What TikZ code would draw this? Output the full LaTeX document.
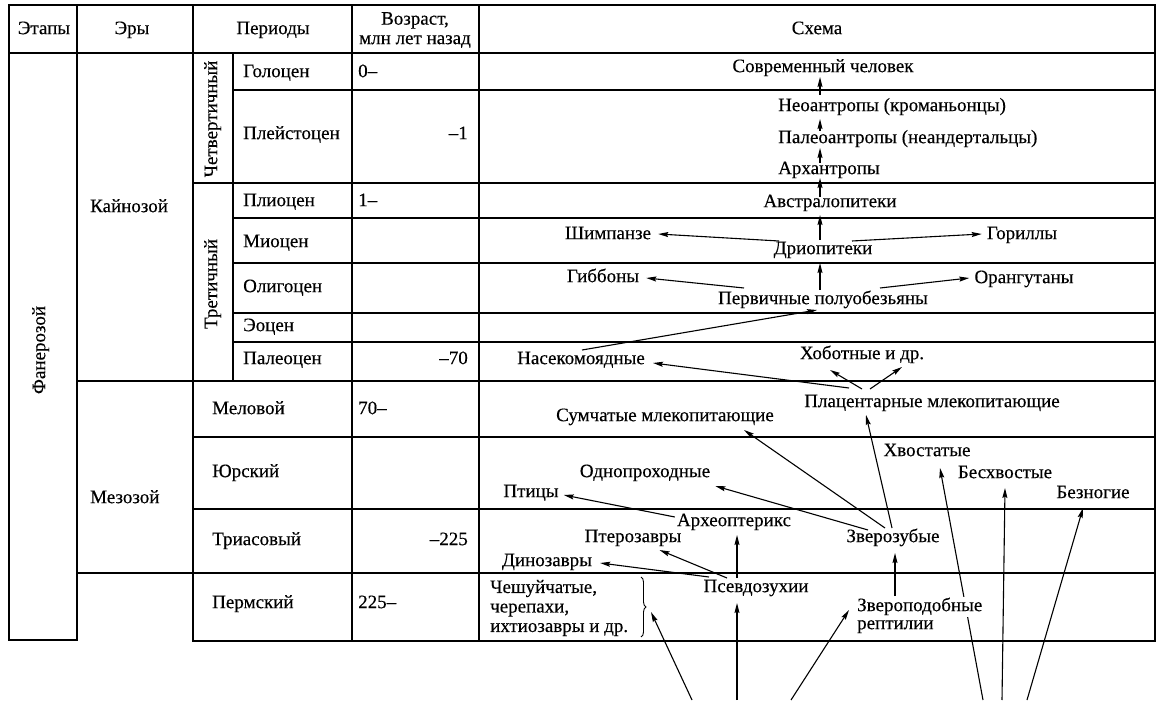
\documentclass[tikz,border=0pt]{standalone}
\usepackage{fontspec}
\setmainfont[FakeBold=0.3]{Liberation Serif}
\usetikzlibrary{arrows.meta,calc,decorations.pathreplacing}
\begin{document}
\begin{tikzpicture}[x=1pt,y=-1pt,
  tl/.style={line width=1.4pt, line cap=rect},
  lbl/.style={inner sep=0pt, font=\fontsize{19}{20}\selectfont, text height=12.5pt, text depth=4.2pt},
  mlbl/.style={inner sep=0pt, font=\fontsize{19}{19.5}\selectfont},
  arr/.style={line width=1.1pt, -{Stealth[length=10pt,width=5pt,inset=1.5pt]}},
]
\fill[white] (0,0) rectangle (1157,703);
\useasboundingbox (0,0) rectangle (1157,703);

% ---------- table ----------
\draw[tl] (9,5) -- (1155,5);
\draw[tl] (9,53) -- (1155,53);
\draw[tl] (9,5) -- (9,640) -- (77,640) -- (77,5);
\draw[tl] (193,5) -- (193,641) -- (1155,641) -- (1155,5);
\draw[tl] (352,5) -- (352,641);
\draw[tl] (479,5) -- (479,641);
\draw[tl] (233,53) -- (233,381);
\foreach \yy in {90,218,263,313,342} \draw[tl] (233,\yy) -- (1155,\yy);
\foreach \yy in {183,437,509} \draw[tl] (193,\yy) -- (1155,\yy);
\foreach \yy in {381,573} \draw[tl] (77,\yy) -- (1155,\yy);

% header
\node[lbl] (h1) at (44,30) {Этапы};
\node[lbl] (h2) at (132,30) {Эры};
\node[lbl] (h3) at (273,30) {Периоды};
\node[mlbl, align=center] (h4) at (415,30) {Возраст,\\млн лет назад};
\node[lbl] (h5) at (817,30) {Схема};

% stages, eras
\node[lbl, rotate=90] (fan) at (41,350) {Фанерозой};
\node[lbl, anchor=west] (kain) at (90,208) {Кайнозой};
\node[lbl, anchor=west] (mez) at (90,499) {Мезозой};
\node[lbl, rotate=90] (chet) at (213,119) {Четвертичный};
\node[lbl, rotate=90] (tret) at (213,284) {Третичный};

% periods
\node[lbl, anchor=west] (p1) at (243,73) {Голоцен};
\node[lbl, anchor=west] (p2) at (243,135) {Плейстоцен};
\node[lbl, anchor=west] (p3) at (243,202) {Плиоцен};
\node[lbl, anchor=west] (p4) at (243,243) {Миоцен};
\node[lbl, anchor=west] (p5) at (243,288) {Олигоцен};
\node[lbl, anchor=west] (p6) at (243,327) {Эоцен};
\node[lbl, anchor=west] (p7) at (243,360) {Палеоцен};
\node[lbl, anchor=west] (p8) at (212,410) {Меловой};
\node[lbl, anchor=west] (p9) at (212,473) {Юрский};
\node[lbl, anchor=west] (p10) at (212,541) {Триасовый};
\node[lbl, anchor=west] (p11) at (212,604) {Пермский};

% ages
\node[lbl, anchor=west] (g1) at (358,73) {0–};
\node[lbl, anchor=east] (g2) at (468,135) {–1};
\node[lbl, anchor=west] (g3) at (358,202) {1–};
\node[lbl, anchor=east] (g4) at (468,360) {–70};
\node[lbl, anchor=west] (g5) at (358,410) {70–};
\node[lbl, anchor=east] (g6) at (468,541) {–225};
\node[lbl, anchor=west] (g7) at (358,604) {225–};

% ---------- scheme ----------
\node[lbl] (sovr) at (823,68) {Современный человек};
\node[lbl, anchor=west] (neo) at (778,107) {Неоантропы (кроманьонцы)};
\node[lbl, anchor=west] (paleo) at (778,139) {Палеоантропы (неандертальцы)};
\node[lbl, anchor=west] (arch) at (778,170) {Архантропы};
\node[lbl] (austr) at (830,203) {Австралопитеки};
\node[lbl] (drio) at (823,250) {Дриопитеки};
\node[lbl] (chimp) at (608,235) {Шимпанзе};
\node[lbl] (gor) at (1022,235) {Гориллы};
\node[lbl] (gib) at (603,278) {Гиббоны};
\node[lbl] (orang) at (1024,279) {Орангутаны};
\node[lbl] (perv) at (823,300) {Первичные полуобезьяны};
\node[lbl] (nasek) at (581,360) {Насекомоядные};
\node[lbl] (hob) at (862,355) {Хоботные и др.};
\node[lbl] (plac) at (932,403) {Плацентарные млекопитающие};
\node[lbl] (sum) at (665,417) {Сумчатые млекопитающие};
\node[lbl] (hvost) at (927,452) {Хвостатые};
\node[lbl] (beshv) at (1005,474) {Бесхвостые};
\node[lbl] (bezn) at (1093,494) {Безногие};
\node[lbl] (odno) at (645,473) {Однопроходные};
\node[lbl] (ptic) at (531,493) {Птицы};
\node[lbl] (arhe) at (734,522) {Археоптерикс};
\node[lbl] (pter) at (633,538) {Птерозавры};
\node[lbl] (zverz) at (893,538) {Зверозубые};
\node[lbl] (dino) at (547,562) {Динозавры};
\node[lbl] (psevd) at (756,588) {Псевдозухии};
\node[mlbl, align=left, anchor=west] (chesh) at (490,608) {Чешуйчатые,\\черепахи,\\ихтиозавры и др.};

\coordinate (bt) at (641,577);
\coordinate (bb) at (641,637);
\coordinate (btip) at (651,612);
\draw[decorate, decoration={brace, amplitude=5pt}, line width=0.9pt] (bt) -- (bb);

% free ends at the bottom
\coordinate (b1) at (692,700);
\coordinate (b2) at (737,700);
\coordinate (b3) at (791,700);
\coordinate (b4) at (983,700);
\coordinate (b5) at (1002,700);
\coordinate (b6) at (1027,700);

% line passing behind "Звероподобные"
\draw[arr] (b4) -- ($(hvost)+(13,16)$);
\node[lbl, anchor=west, fill=white, inner ysep=2pt] (zverp) at (857,607) {Звероподобные};
\node[lbl, anchor=west] (zverpb) at (857,625) {рептилии};

% hominid line
\draw[arr] ($(neo.west)+(42,-12)$) -- ($(sovr)+(-3,9)$);
\draw[arr] ($(paleo.west)+(42,-8)$) -- ($(neo.west)+(42,12)$);
\draw[arr] ($(arch.west)+(42,-7)$) -- ($(paleo.west)+(42,9)$);
\draw[arr] ($(austr)+(-10,-6)$) -- ($(arch.west)+(42,8)$);
\draw[arr] ($(drio)+(-3,-10)$) -- ($(austr)+(-10,12)$);
\draw[arr] ($(drio)+(-44,-9)$) -- ($(chimp.east)+(7,-1)$);
\draw[arr] ($(drio)+(29,-9)$) -- ($(gor.west)+(-5,-1)$);
\draw[arr] ($(perv)+(-3,-10)$) -- ($(drio)+(-3,13)$);
\draw[arr] ($(perv)+(-79,-12)$) -- ($(gib.east)+(7,0)$);
\draw[arr] ($(perv)+(57,-12)$) -- ($(orang.west)+(-5,-1)$);
\draw[arr] ($(nasek)+(1,-10)$) -- ($(perv)+(-6,10)$);
\draw[arr] ($(plac)+(-83,-15)$) -- ($(nasek.east)+(8,3)$);
\draw[arr] ($(plac)+(-70,-14)$) -- ($(hob)+(-32,15)$);
\draw[arr] ($(plac)+(-62,-14)$) -- ($(hob)+(40,12)$);

% mammals
\draw[arr] ($(zverz)+(-1,-10)$) -- ($(plac)+(-66,12)$);
\draw[arr] ($(zverz)+(-8,-10)$) -- ($(sum.east)+(-30,13)$);
\draw[arr] ($(zverz)+(-25,-8)$) -- ($(odno.east)+(5,13)$);
\draw[arr] ($(zverp.west)+(38,-11)$) -- ($(zverz)+(2,15)$);

% reptiles, birds
\draw[arr] ($(arhe.west)+(-2,-5)$) -- ($(ptic.east)+(5,2)$);
\draw[arr] ($(psevd)+(-19,-10)$) -- ($(arhe)+(3,13)$);
\draw[arr] ($(psevd)+(-29,-10)$) -- ($(pter.east)+(-22,12)$);
\draw[arr] ($(psevd)+(-47,-11)$) -- ($(dino.east)+(8,1)$);

% from below
\draw[arr] (b1) -- (btip);
\draw[arr] (b2) -- ($(psevd)+(-19,15)$);
\draw[arr] (b3) -- ($(zverp.west)+(-8,3)$);
\draw[arr] (b5) -- ($(beshv)+(0,14)$);
\draw[arr] (b6) -- ($(bezn)+(-10,14)$);
\end{tikzpicture}
\end{document}
